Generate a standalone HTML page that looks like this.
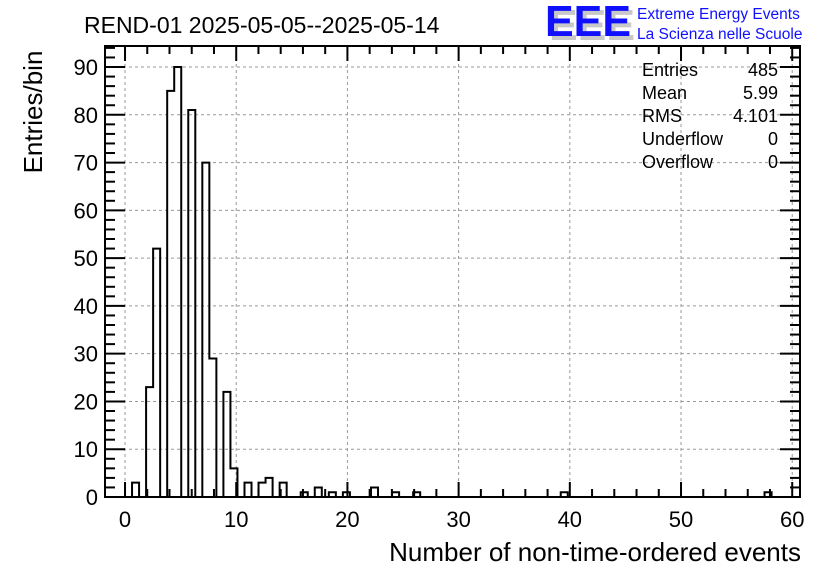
<!DOCTYPE html>
<html><head><meta charset="utf-8"><style>
body{margin:0;background:#fff}
svg text{font-family:"Liberation Sans",sans-serif}
</style></head><body>
<svg id="c" width="836" height="572" viewBox="0 0 836 572" xmlns="http://www.w3.org/2000/svg">
<rect width="836" height="572" fill="#fff"/>
<text x="84" y="33" font-size="23">REND-01 2025-05-05--2025-05-14</text>
<g>
<text x="549" y="40" font-size="44" font-weight="bold" fill="#c8c8c8" textLength="86" lengthAdjust="spacingAndGlyphs">EEE</text>
<text x="545" y="36" font-size="44" font-weight="bold" fill="#1010ff" textLength="86" lengthAdjust="spacingAndGlyphs">EEE</text>
<text x="637" y="19" font-size="15.5" fill="#1010ff">Extreme Energy Events</text>
<text x="637" y="39" font-size="15.5" fill="#1010ff">La Scienza nelle Scuole</text>
</g>
<g id="grid"></g>
<g id="axes"></g>
<path id="hist" fill="none" stroke="#000" stroke-width="2"/>
<rect x="105" y="46" width="695" height="451" fill="none" stroke="#000" stroke-width="2"/>
<g font-size="18">
<text x="642" y="76">Entries</text><text x="778" y="76" text-anchor="end">485</text>
<text x="642" y="99">Mean</text><text x="778" y="99" text-anchor="end">5.99</text>
<text x="642" y="122">RMS</text><text x="778" y="122" text-anchor="end">4.101</text>
<text x="642" y="145">Underflow</text><text x="778" y="145" text-anchor="end">0</text>
<text x="642" y="168">Overflow</text><text x="778" y="168" text-anchor="end">0</text>
</g>
<text transform="translate(42,112) rotate(-90)" text-anchor="middle" font-size="26">Entries/bin</text>
<text x="801" y="561" text-anchor="end" font-size="26">Number of non-time-ordered events</text>
</svg>
<script>
const binWidth = 0.632;
const counts = [0,3,0,23,52,0,85,90,0,81,0,70,29,0,22,6,0,3,0,3,4,0,3,0,0,1,0,2,0,1,0,1,0,0,0,2,0,0,1,0,0,1,0,0,0,0,0,0,0,0,0,0,0,0,0,0,0,0,0,0,0,0,1,0,0,0,0,0,0,0,0,0,0,0,0,0,0,0,0,0,0,0,0,0,0,0,0,0,0,0,0,1,0,0,0];
const xTicks = [0,10,20,30,40,50,60];
const yTicks = [0,10,20,30,40,50,60,70,80,90];
const X0=105,X1=800,Y0=497,Y1=46;
const xmin=-1.8,xmax=60.7,ymin=0,ymax=94.4;
const sx=v=>X0+(v-xmin)/(xmax-xmin)*(X1-X0);
const sy=v=>Y0-(v-ymin)/(ymax-ymin)*(Y0-Y1);
const NS='http://www.w3.org/2000/svg';
const grid=document.getElementById('grid'),axes=document.getElementById('axes');
function ln(p,x1,y1,x2,y2,st,w,d){const l=document.createElementNS(NS,'line');l.setAttribute('x1',x1);l.setAttribute('y1',y1);l.setAttribute('x2',x2);l.setAttribute('y2',y2);l.setAttribute('stroke',st);l.setAttribute('stroke-width',w);if(d)l.setAttribute('stroke-dasharray',d);p.appendChild(l);return l;}
function tx(p,x,y,s,a){const t=document.createElementNS(NS,'text');t.setAttribute('x',x);t.setAttribute('y',y);t.setAttribute('font-size','22');t.setAttribute('text-anchor',a);t.textContent=s;p.appendChild(t);return t;}
xTicks.forEach(v=>{const x=sx(v);
 const g=ln(grid,x,Y1,x,Y0,'#999',1,'3,3');
 
 
 ln(axes,x,Y0,x,Y0-15,'#000',2);ln(axes,x,Y1,x,Y1+15,'#000',2);
 const t=tx(axes,x,527,String(v),'middle');
 
 });
for(let v=0;v<=60;v+=2){if(v%10){const x=sx(v);ln(axes,x,Y0,x,Y0-8,'#000',2);ln(axes,x,Y1,x,Y1+8,'#000',2);}}
yTicks.forEach(v=>{const y=sy(v);
 const g=ln(grid,X0,y,X1,y,'#999',1,'3,3');
 
 
 ln(axes,X0,y,X0+20,y,'#000',2);ln(axes,X1,y,X1-20,y,'#000',2);
 const t=tx(axes,98,y+8,String(v),'end');
 
 });
for(let v=0;v<=94;v+=2){if(v%10){const y=sy(v);ln(axes,X0,y,X0+10,y,'#000',2);ln(axes,X1,y,X1-10,y,'#000',2);}}
let d='M'+sx(0)+' '+sy(0);
counts.forEach((c,i)=>{const a=sx(i*binWidth),b=sx((i+1)*binWidth);d+=' L'+a+' '+sy(c)+' L'+b+' '+sy(c);});
d+=' L'+sx(counts.length*binWidth)+' '+sy(0);
document.getElementById('hist').setAttribute('d',d);
</script>
</body></html>
